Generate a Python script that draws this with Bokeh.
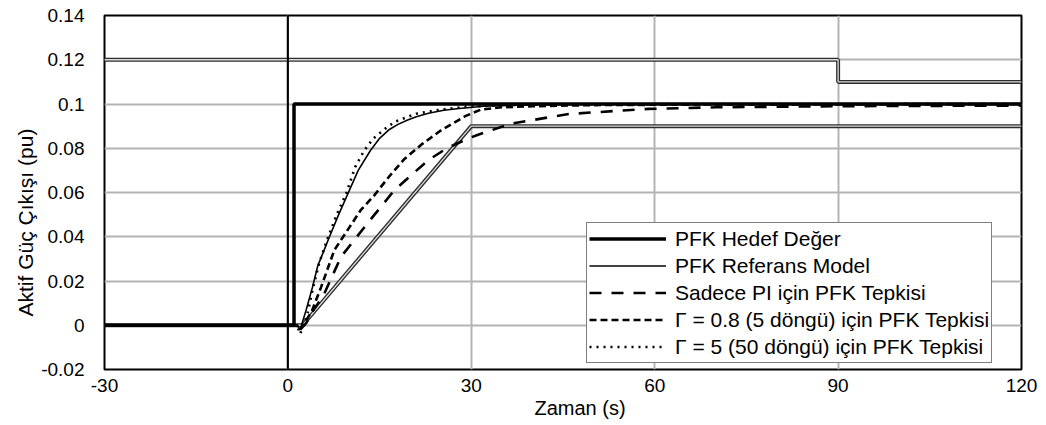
from bokeh.plotting import figure
from bokeh.models import FixedTicker, Span, Legend, LegendItem, Title
from bokeh.embed import file_html
from bokeh.resources import INLINE

FONT = "Liberation Sans"

# Axis ticks and labels
x_ticks = [-30, 0, 30, 60, 90, 120]
x_tick_labels = ["-30", "0", "30", "60", "90", "120"]
y_ticks = [-0.02, 0.0, 0.02, 0.04, 0.06, 0.08, 0.1, 0.12, 0.14]
y_tick_labels = ["-0.02", "0", "0.02", "0.04", "0.06", "0.08", "0.1", "0.12", "0.14"]
x_title = "Zaman (s)"
y_title = "Aktif Güç Çıkışı (pu)"

# PFK setpoint (step at t = 1 s)
target_t = [-30, 1, 1, 120]
target_y = [0.0, 0.0, 0.1, 0.1]

# Reference model response
ref_t = [-30, 1.5, 2, 3, 4, 4.9, 5.5, 6.8, 8.3, 9.8, 11.5, 13.5, 15, 16.6, 18,
         19.6, 21, 23, 25.5, 28, 32, 40, 50, 120]
ref_y = [0.0, 0.0, -0.002, 0.007, 0.017, 0.027, 0.031, 0.040, 0.050, 0.0594, 0.070,
         0.079, 0.0845, 0.0885, 0.0908, 0.0928, 0.0942, 0.0958, 0.0972, 0.098, 0.099,
         0.0997, 0.1, 0.1]

# PI-only response
pi_t = [-30, 1.5, 2, 3, 4, 5.9, 8.7, 13, 17.4, 22.9, 26, 29.4, 31, 36.5, 46, 59,
        70, 90, 120]
pi_y = [0.0, 0.0, -0.002, 0.001, 0.006, 0.014, 0.031, 0.046, 0.061, 0.0745, 0.080,
        0.0843, 0.086, 0.0911, 0.0955, 0.0978, 0.0985, 0.099, 0.0993]

# Gamma = 0.8 (5 cycles) response
g08_t = [-30, 1.5, 2, 3, 4, 5.4, 7.6, 10, 11.9, 14.1, 16.5, 19, 22, 25, 29, 31.6,
         35, 40, 50, 70, 120]
g08_y = [0.0, 0.0, -0.002, 0.002, 0.007, 0.017, 0.034, 0.044, 0.052, 0.0586, 0.067,
         0.075, 0.082, 0.088, 0.0945, 0.0975, 0.0985, 0.099, 0.0995, 0.0998, 0.1]

# Gamma = 5 (50 cycles) response
g5_t = [-30, 1.5, 2, 3.2, 4, 5.1, 6.6, 8, 9.6, 11, 12.5, 14, 16, 17.5, 21, 25, 29,
        35, 45, 120]
g5_y = [0.0, 0.0, -0.004, 0.005, 0.0157, 0.028, 0.040, 0.050, 0.060, 0.0715, 0.079,
        0.0845, 0.089, 0.092, 0.0956, 0.0975, 0.0987, 0.0995, 0.0999, 0.1]

# Upper and lower bounds (double lines)
upper_t = [-30, 90, 90, 120]
upper_y = [0.12, 0.12, 0.11, 0.11]
lower_t = [-30, 2.4, 30, 120]
lower_y = [0.0, 0.0, 0.09, 0.09]

p = figure(width=1046, height=425, x_range=(-30, 120), y_range=(-0.02, 0.14),
           output_backend="svg", toolbar_location=None,
           min_border_left=104, min_border_right=25, min_border_top=15,
           min_border_bottom=56)

p.background_fill_color = "white"
p.border_fill_color = "white"
p.outline_line_color = "black"
p.outline_line_width = 2

p.xaxis.ticker = FixedTicker(ticks=x_ticks)
p.yaxis.ticker = FixedTicker(ticks=y_ticks)
p.xaxis.major_label_overrides = dict(zip(x_ticks, x_tick_labels))
p.yaxis.major_label_overrides = dict(zip(y_ticks, y_tick_labels))

for ax in (p.xaxis[0], p.yaxis[0]):
    ax.axis_line_color = None
    ax.major_tick_line_color = None
    ax.minor_tick_line_color = None
    ax.major_tick_in = 0
    ax.major_tick_out = 0
    ax.major_label_text_font = FONT
    ax.major_label_text_font_size = "19px"
    ax.major_label_text_color = "black"

p.xaxis.major_label_standoff = 9
p.yaxis.major_label_standoff = 20

p.xgrid.grid_line_color = "#b4b4b4"
p.xgrid.grid_line_width = 2
p.ygrid.grid_line_color = "#b4b4b4"
p.ygrid.grid_line_width = 2

# axis titles as side titles, shifted along their axes
p.add_layout(Title(text=x_title, align="left", offset=430, standoff=0,
                   text_font=FONT, text_font_size="20px", text_font_style="normal",
                   text_color="black"), "below")
p.add_layout(Title(text=y_title, align="left", offset=53, standoff=4,
                   text_font=FONT, text_font_size="21px", text_font_style="normal",
                   text_color="black"), "left")

# vertical axis line crossing at t = 0
p.add_layout(Span(location=0, dimension="height", line_color="black", line_width=2))

# bound lines drawn as double lines
for bt, by in ((upper_t, upper_y), (lower_t, lower_y)):
    p.line(bt, by, line_color="#2e2e2e", line_width=4)
    p.line(bt, by, line_color="#dcdcdc", line_width=1.3)

r_pi = p.line(pi_t, pi_y, line_color="black", line_width=2.6, line_dash="12 10")
r_g08 = p.line(g08_t, g08_y, line_color="black", line_width=2.6, line_dash="7 4")
r_g5 = p.line(g5_t, g5_y, line_color="black", line_width=2.6, line_dash="2 5")
r_ref = p.line(ref_t, ref_y, line_color="black", line_width=1.6)
r_target = p.line(target_t, target_y, line_color="black", line_width=3.5)

legend = Legend(items=[
    LegendItem(label="PFK Hedef Değer", renderers=[r_target]),
    LegendItem(label="PFK Referans Model", renderers=[r_ref]),
    LegendItem(label="Sadece PI için PFK Tepkisi", renderers=[r_pi]),
    LegendItem(label="Γ = 0.8 (5 döngü) için PFK Tepkisi", renderers=[r_g08]),
    LegendItem(label="Γ = 5 (50 döngü) için PFK Tepkisi", renderers=[r_g5]),
], location=(482, 6))
legend.label_text_font = FONT
legend.label_text_font_size = "21px"
legend.label_text_color = "black"
legend.border_line_color = "black"
legend.border_line_width = 1.5
legend.background_fill_color = "white"
legend.background_fill_alpha = 1
legend.padding = 2
legend.spacing = 0
legend.margin = 0
legend.glyph_width = 77
legend.glyph_height = 27
legend.label_height = 27
legend.label_standoff = 9
p.add_layout(legend)

open("out.html", "w").write(file_html(p, INLINE))
